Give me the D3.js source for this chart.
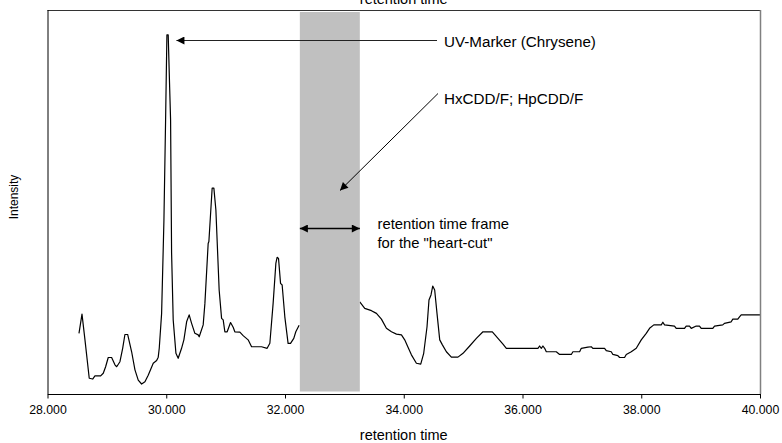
<!DOCTYPE html>
<html>
<head>
<meta charset="utf-8">
<script src="https://cdn.jsdelivr.net/npm/d3@7"></script>
<style>
  html, body { margin: 0; padding: 0; background: #fff; }
  svg { display: block; font-family: "Liberation Sans", Arial, sans-serif; }
</style>
</head>
<body>
<svg id="chart" width="782" height="443"></svg>
<script>
// ---- data ----
const retentionTime = [
  28.530, 28.581, 28.631, 28.703, 28.761, 28.799, 28.895, 28.939, 28.979, 29.023,
  29.080, 29.136, 29.165, 29.220, 29.266, 29.304, 29.350, 29.417, 29.473, 29.528,
  29.585, 29.641, 29.696, 29.781, 29.838, 29.865, 29.882, 29.922, 29.961, 29.989,
  30.011, 30.033, 30.057, 30.073, 30.090, 30.117, 30.163, 30.201, 30.258, 30.297,
  30.343, 30.386, 30.427, 30.482, 30.538, 30.555, 30.622, 30.651, 30.706, 30.718,
  30.773, 30.802, 30.836, 30.891, 30.932, 30.959, 30.987, 31.026, 31.083, 31.127,
  31.155, 31.240, 31.295, 31.379, 31.437, 31.605, 31.699, 31.745, 31.800, 31.846,
  31.867, 31.891, 31.925, 31.952, 31.997, 32.052, 32.093, 32.148, 32.182, 32.238,
  null,
  33.259, 33.343, 33.456, 33.540, 33.624, 33.708, 33.793, 33.877, 33.961, 34.016,
  34.072, 34.129, 34.213, 34.286, 34.336, 34.392, 34.425, 34.459, 34.488, 34.521,
  34.560, 34.606, 34.651, 34.718, 34.802, 34.913, 34.998, 35.110, 35.223, 35.334,
  35.492, 35.587, 35.671, 35.728, 36.260, 36.288, 36.317, 36.344, 36.373, 36.401,
  36.569, 36.625, 36.822, 36.849, 36.962, 36.990, 37.101, 37.159, 37.185, 37.382,
  37.411, 37.495, 37.522, 37.606, 37.635, 37.719, 37.748, 37.832, 37.916, 38.000,
  38.084, 38.140, 38.212, 38.337, 38.364, 38.392, 38.560, 38.589, 38.729, 38.757,
  38.813, 38.842, 38.926, 38.981, 39.010, 39.205, 39.234, 39.373, 39.401, 39.515,
  39.542, 39.626, 39.655, 39.683, 40.000
];
const intensity = [
  15.8, 20.8, 14.1, 4.1, 3.9, 4.7, 4.7, 5.4, 7.1, 9.5,
  9.5, 7.6, 7.1, 8.4, 11.9, 15.5, 15.5, 11.0, 6.3, 3.6,
  2.6, 3.2, 4.9, 8.0, 8.7, 9.6, 11.9, 21.0, 45.3, 71.4,
  93.5, 93.5, 80.0, 71.4, 36.7, 19.3, 10.6, 9.3, 11.9, 14.1,
  18.8, 20.6, 18.4, 15.8, 15.4, 14.9, 18.0, 23.6, 39.2, 39.7,
  53.6, 53.6, 47.9, 27.1, 19.7, 19.3, 16.2, 16.2, 18.6, 17.4,
  16.2, 16.1, 15.2, 14.1, 12.3, 12.3, 11.9, 13.2, 23.6, 34.0,
  35.6, 35.3, 28.8, 28.4, 20.1, 13.2, 13.2, 14.5, 16.2, 17.9,
  null,
  24.0, 22.3, 21.7, 21.0, 19.5, 17.1, 16.2, 15.6, 15.4, 14.1,
  12.2, 10.2, 8.0, 7.8, 10.6, 17.5, 24.5, 25.8, 28.1, 27.1,
  21.0, 14.1, 12.8, 11.0, 9.6, 9.6, 10.6, 12.5, 14.5, 16.2,
  16.2, 14.5, 13.0, 11.9, 11.9, 12.5, 11.9, 12.5, 11.9, 11.0,
  11.0, 10.3, 10.3, 11.0, 11.0, 11.9, 12.2, 12.3, 11.9, 11.9,
  11.3, 11.0, 10.3, 10.0, 9.5, 9.5, 10.3, 11.0, 11.9, 14.1,
  15.8, 17.1, 18.0, 18.0, 18.7, 18.0, 17.7, 17.1, 17.1, 17.7,
  17.7, 17.1, 17.7, 17.7, 17.1, 17.1, 17.7, 18.0, 18.4, 18.8,
  19.5, 19.5, 20.1, 20.6, 20.6
];
const xTicks = [28, 30, 32, 34, 36, 38, 40];
const heartCut = [32.25, 33.26];
const xTitle = "retention time";
const yTitle = "Intensity";
const markerLabel = "UV-Marker (Chrysene)";
const markerPeak = [30.02, 93.5];
const targetLabel = "HxCDD/F; HpCDD/F";
const frameLabel = ["retention time frame", "for the \"heart-cut\""];

// ---- layout ----
const svg = d3.select("#chart");
const L = 47.5, R = 760, T = 10, B = 394;
const x = d3.scaleLinear().domain([28, 40]).range([L, R]);
const y = d3.scaleLinear().domain([0, 100]).range([B, B - 384]);

const pts = retentionTime.map((t, i) => ({ t, v: intensity[i] }));

// defs: arrowheads
const defs = svg.append("defs");
defs.append("marker").attr("id", "ah")
  .attr("viewBox", "0 0 10 10").attr("refX", 10).attr("refY", 5)
  .attr("markerUnits", "userSpaceOnUse")
  .attr("markerWidth", 10).attr("markerHeight", 8).attr("orient", "auto-start-reverse")
  .append("path").attr("d", "M0,0 L10,5 L0,10 Z").attr("fill", "#000");

// trace
svg.append("path")
  .datum(pts)
  .attr("fill", "none")
  .attr("stroke", "#000")
  .attr("stroke-width", 1.2)
  .attr("stroke-linejoin", "round")
  .attr("d", d3.line().defined(d => d.t != null && d.v != null)
    .x(d => x(d.t)).y(d => y(d.v)));

// heart-cut band (drawn over trace)
svg.append("rect")
  .attr("x", x(heartCut[0])).attr("y", T + 2)
  .attr("width", x(heartCut[1]) - x(heartCut[0]))
  .attr("height", B - 2.5 - (T + 2))
  .attr("fill", "#c0c0c0");

// frame lines
svg.append("line").attr("x1", L).attr("x2", R + 0.5).attr("y1", T + 0.5).attr("y2", T + 0.5)
  .attr("stroke", "#333").attr("stroke-width", 1);
svg.append("line").attr("x1", R + 0.5).attr("x2", R + 0.5).attr("y1", T).attr("y2", B)
  .attr("stroke", "#808080").attr("stroke-width", 1.5);
svg.append("line").attr("x1", L + 0.5).attr("x2", L + 0.5).attr("y1", T).attr("y2", B)
  .attr("stroke", "#000").attr("stroke-width", 1);

// x axis
const xAxis = d3.axisBottom(x).tickValues(xTicks).tickFormat(d3.format(".3f"))
  .tickSize(4).tickPadding(7);
const gx = svg.append("g").attr("transform", `translate(0,${B + 0.5})`).call(xAxis);
gx.select(".domain").attr("stroke", "#000").attr("d", `M${L},0H${R + 1}`);
gx.selectAll(".tick line").attr("stroke", "#000");
gx.selectAll("text").attr("font-size", 12.3).attr("fill", "#000")
  .attr("font-family", "Liberation Sans, Arial, sans-serif");

// axis titles
svg.append("text").attr("x", (L + R) / 2).attr("y", 440)
  .attr("text-anchor", "middle").attr("font-size", 14.5).text(xTitle);
svg.append("text").attr("x", (L + R) / 2).attr("y", 4)
  .attr("text-anchor", "middle").attr("font-size", 14.5).text(xTitle);
svg.append("text")
  .attr("transform", `translate(18,${(T + B) / 2 - 5}) rotate(-90)`)
  .attr("text-anchor", "middle").attr("font-size", 12).text(yTitle);

// annotations
svg.append("line")
  .attr("x1", 437).attr("y1", 40.5).attr("x2", x(markerPeak[0]) + 9).attr("y2", 40.5)
  .attr("stroke", "#222").attr("stroke-width", 1).attr("marker-end", "url(#ah)");
svg.append("text").attr("x", 444).attr("y", 46.5).attr("font-size", 15.2).text(markerLabel);

svg.append("line")
  .attr("x1", 438).attr("y1", 93.5).attr("x2", 340).attr("y2", 190.5)
  .attr("stroke", "#000").attr("stroke-width", 1).attr("marker-end", "url(#ah)");
svg.append("text").attr("x", 444).attr("y", 103.5).attr("font-size", 15.2).text(targetLabel);

svg.append("line")
  .attr("x1", x(heartCut[0])).attr("y1", 228.5).attr("x2", x(heartCut[1])).attr("y2", 228.5)
  .attr("stroke", "#000").attr("stroke-width", 1.3)
  .attr("marker-start", "url(#ah)").attr("marker-end", "url(#ah)");
svg.append("text").attr("x", 377.5).attr("y", 228.5).attr("font-size", 14.8).text(frameLabel[0]);
svg.append("text").attr("x", 377.5).attr("y", 247.5).attr("font-size", 14.8).text(frameLabel[1]);
</script>
</body>
</html>
